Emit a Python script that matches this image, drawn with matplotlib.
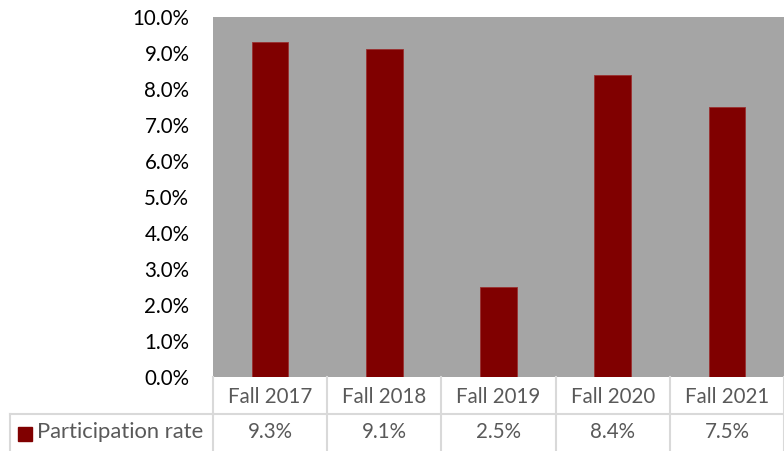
import matplotlib.pyplot as plt
from matplotlib.ticker import PercentFormatter
from matplotlib.transforms import blended_transform_factory
import numpy as np

categories = ['Fall 2017', 'Fall 2018', 'Fall 2019', 'Fall 2020', 'Fall 2021']
participation = [9.3, 9.1, 2.5, 8.4, 7.5]
series_name = 'Participation rate'

plt.rcParams['font.family'] = ['Lato', 'DejaVu Sans']

W, H = 784, 451
fig = plt.figure(figsize=(W / 100, H / 100), dpi=100)
ax = fig.add_axes([213 / W, 1 - 377 / H, (W - 213) / W, (377 - 17) / H])
ax.set_facecolor('#a5a5a5')

x = np.arange(len(categories))
ax.bar(x, participation, width=0.32, color='#800000', edgecolor='#9a3030', linewidth=0.6)
ax.set_xlim(-0.5, len(categories) - 0.5)
ax.set_ylim(0, 10)
ax.set_yticks(np.arange(0, 10.01, 1))
ax.yaxis.set_major_formatter(PercentFormatter(decimals=1))
ax.tick_params(axis='y', length=0, labelsize=14.8, pad=17, colors='black')
ax.set_xticks([])
for s in ax.spines.values():
    s.set_visible(False)

# data table below the plot, columns follow the category scale
grid = '#d9d9d9'
txt = '#595959'
fs = 14.8
trans = blended_transform_factory(ax.transData, fig.transFigure)
y_top = 1 - 377 / H
y_mid = 1 - 414 / H
y_bot = 0.0
for b in np.arange(len(categories) + 1) - 0.5:
    ax.plot([b, b], [y_top, y_bot], transform=trans, color=grid, lw=1.5, clip_on=False)
ax.plot([-0.5, len(categories) - 0.5], [y_mid, y_mid], transform=trans, color=grid, lw=1.5, clip_on=False)
# label cell
fig.add_artist(plt.Line2D([10 / W, 213 / W], [y_mid, y_mid], color=grid, lw=1.5))
fig.add_artist(plt.Line2D([10 / W, 10 / W], [y_mid, y_bot], color=grid, lw=1.5))

for i, (c, v) in enumerate(zip(categories, participation)):
    ax.text(i, (y_top + y_mid) / 2 - 0.004, c, transform=trans, ha='center', va='center',
            fontsize=fs, color=txt)
    ax.text(i, (y_mid + y_bot) / 2, f'{v:.1f}%', transform=trans, ha='center', va='center',
            fontsize=fs, color=txt)

fig.add_artist(plt.Rectangle((18 / W, 1 - 441 / H), 14 / W, 14 / H, color='#800000'))
fig.text(37 / W, (y_mid + y_bot) / 2, series_name, ha='left', va='center', fontsize=fs + 1, color=txt)

fig.savefig('out.png', dpi=100)
